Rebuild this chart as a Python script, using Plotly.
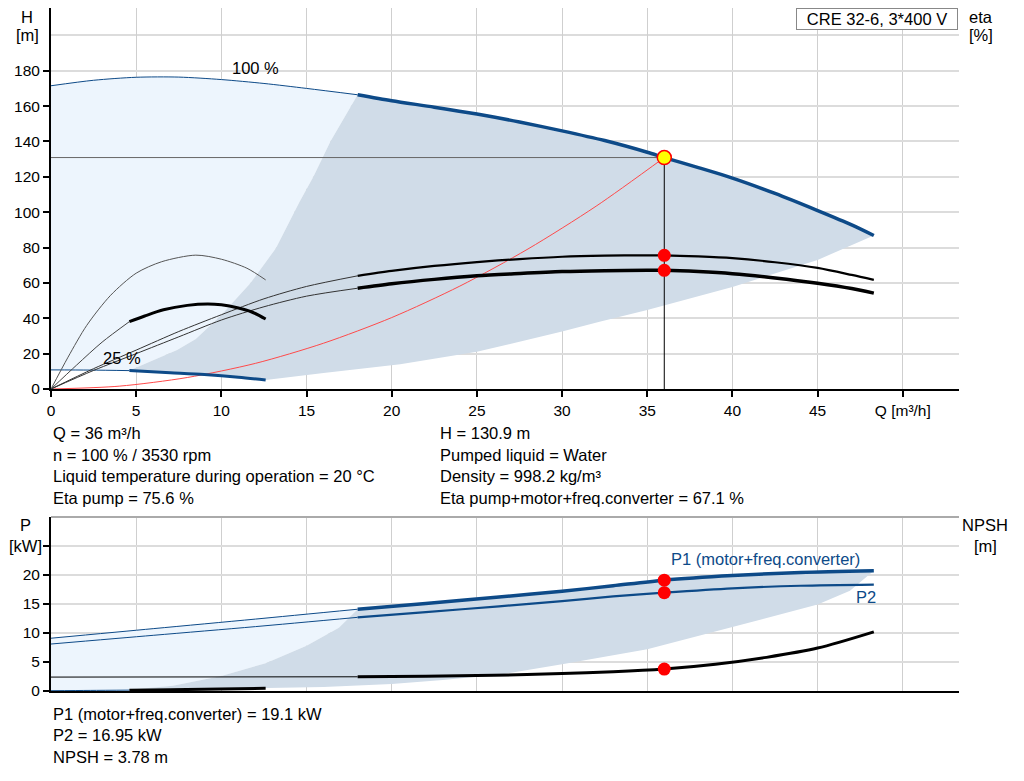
import plotly.graph_objects as go

W, H = 1024, 781
OFF = 8  # the page body margin moves the figure 8 px right and down

# ---- upper chart: head / efficiency -------------------------------------------------
q_100_thin = [0, 2.5, 5, 7.5, 10, 12.5, 15, 18]
h_100_thin = [171.5, 174.6, 176.3, 176.4, 175.0, 172.8, 170.0, 166.4]
q_100 = [18, 20, 22.5, 25, 27.5, 30, 32.5, 35, 36, 38, 40, 42.5, 45, 47, 48.3]
h_100 = [166.4, 163.0, 159.4, 155.5, 151.0, 146.0, 140.5, 133.9, 130.9, 125.2, 119.3, 110.6, 100.9, 92.8, 86.8]

q_25_thin = [0, 2.3, 4.6]
h_25_thin = [10.8, 10.7, 10.4]
q_25 = [4.6, 7, 9, 11, 12.6]
h_25 = [10.4, 9.2, 8.2, 6.7, 5.1]

eta_pump_thin = [0, 11.5, 22, 32.5, 42, 51, 58, 64]
eta_pump = [64, 66.8, 69.6, 71.8, 73.5, 74.8, 75.4, 75.6, 75.6, 75.0, 74.0, 71.7, 68.5, 64.5, 61.7]
eta_total_thin = [0, 10.5, 20, 29.5, 39, 46.5, 52.5, 57]
eta_total = [57, 59.5, 62, 64, 65.3, 66.4, 66.9, 67.1, 67.1, 66.4, 65.2, 62.8, 59.8, 56.8, 54.2]

q_eta25_pump = [0, 1, 2.1, 3.5, 5, 6.5, 8.5, 10, 11.5, 12.6]
eta25_pump = [0, 18, 36, 53, 65.5, 72, 75.7, 73.4, 68.3, 61.7]
q_eta25_total_thin = [0, 1.5, 3, 4.6]
eta25_total_thin = [0, 13.5, 26.5, 38.1]
q_eta25_total = [4.6, 5.5, 6.6, 8, 9.2, 10, 11, 11.75, 12.6]
eta25_total = [38.1, 41.3, 44.8, 47.3, 48.1, 47.6, 45.8, 43.7, 39.6]

q_system = [0, 4, 8, 12, 16, 20, 24, 28, 32, 36]
h_system = [0, 1.6, 6.5, 14.5, 25.9, 40.4, 58.2, 79.2, 103.4, 130.9]

q_edge_left = [4.6, 7.4, 8.5, 10, 11.7, 13.2, 14.6, 15.4, 16.4, 18]
h_edge_left = [10.4, 22, 28.3, 41.9, 59.8, 79.6, 106, 120, 140, 166.4]
q_edge_low = [12.6, 16, 20.5, 25, 30, 32.2, 35, 40, 45, 48.3]
h_edge_low = [5.1, 9.0, 14.0, 21.0, 32.5, 38.0, 44.7, 57.7, 73.0, 86.8]

Q_DUTY, H_DUTY, ETA_PUMP_DUTY, ETA_TOTAL_DUTY = 36, 130.9, 75.6, 67.1

# ---- lower chart: power / NPSH --------------------------------------------------
q_p_thin = [0, 6, 12, 18]
p1_thin = [9.1, 10.75, 12.4, 14.1]
p2_thin = [8.1, 9.6, 11.1, 12.7]
q_p = [18, 22, 26.3, 30, 33, 36, 40, 44, 48.3]
p1 = [14.1, 15.1, 16.2, 17.2, 18.15, 19.1, 19.9, 20.45, 20.75]
p2 = [12.7, 13.6, 14.6, 15.5, 16.3, 16.95, 17.7, 18.15, 18.35]

q_p25_thin = [0, 2.3, 4.6]
p25_thin = [0.05, 0.1, 0.15]
q_p25 = [4.6, 7, 9, 11, 12.6]
p25 = [0.15, 0.22, 0.3, 0.38, 0.47]

q_npsh_thin = [0, 18]
npsh_thin = [2.4, 2.45]
q_npsh = [18, 22, 26, 30, 33, 36, 39, 42, 45, 48.3]
npsh = [2.45, 2.55, 2.7, 3.0, 3.3, 3.78, 4.6, 5.8, 7.4, 10.2]

q_pedge_left = [4.6, 7.15, 10, 12.6, 15, 16.9, 18]
p_edge_left = [0.2, 0.9, 2.6, 4.8, 7.8, 10.9, 14.1]
q_pedge_low = [12.6, 16, 20, 23, 26.5, 30, 35, 40, 45, 46.9, 48.3]
p_edge_low = [0.45, 0.7, 1.2, 1.9, 2.9, 4.6, 7.2, 11.0, 14.9, 17.3, 20.75]

P1_DUTY, P2_DUTY, NPSH_DUTY = 19.1, 16.95, 3.78

x_ticks = [0, 5, 10, 15, 20, 25, 30, 35, 40, 45, 50]
x_ticktext = ["0", "5", "10", "15", "20", "25", "30", "35", "40", "45", "Q [m³/h]"]
h_ticks = [0, 20, 40, 60, 80, 100, 120, 140, 160, 180]
eta_ticks = [0, 20, 40, 60, 80, 100]
p_ticks = [0, 5, 10, 15, 20, 25]
p_ticktext = ["0", "5", "10", "15", "20", ""]

BLUE = "#0d4a88"
DARK_FILL = "#d0dce8"
LIGHT_FILL = "#edf5fd"
FONT = "Liberation Sans, Arial, sans-serif"
TXT = 16.5


def px(x, y):
    # screen pixel of the reference -> paper coordinates
    return (x - OFF) / W, 1 - (y - OFF) / H


fig = go.Figure()


def line(x, y, color, width, axes=("x", "y")):
    fig.add_trace(go.Scatter(x=x, y=y, mode="lines", xaxis=axes[0], yaxis=axes[1],
                             line=dict(color=color, width=width, shape="spline", smoothing=0.8),
                             hoverinfo="skip", showlegend=False))


def area(x, y, color, axes=("x", "y")):
    fig.add_trace(go.Scatter(x=x, y=y, mode="lines", fill="toself", fillcolor=color,
                             xaxis=axes[0], yaxis=axes[1], line=dict(width=0),
                             hoverinfo="skip", showlegend=False))


# upper areas
area(q_100_thin + q_edge_left[::-1] + q_25_thin[::-1],
     h_100_thin + h_edge_left[::-1] + h_25_thin[::-1], LIGHT_FILL)
area(q_edge_left + q_100 + q_edge_low[::-1] + q_25[::-1],
     h_edge_left + h_100 + h_edge_low[::-1] + h_25[::-1], DARK_FILL)

# upper lines
line(q_system, h_system, "#ff4a4a", 1)
line([0, Q_DUTY], [H_DUTY, H_DUTY], "#666666", 1)
line([Q_DUTY, Q_DUTY], [0, H_DUTY], "#000000", 1)
line(q_100_thin, h_100_thin, BLUE, 1)
line(q_100, h_100, BLUE, 3.5)
line(q_25_thin, h_25_thin, BLUE, 1)
line(q_25, h_25, BLUE, 3)
line(q_100_thin, eta_pump_thin, "#333333", 1)
line(q_100, eta_pump, "#000000", 2.2)
line(q_100_thin, eta_total_thin, "#333333", 1)
line(q_100, eta_total, "#000000", 3.5)
line(q_eta25_pump, eta25_pump, "#555555", 1)
line(q_eta25_total_thin, eta25_total_thin, "#444444", 1)
line(q_eta25_total, eta25_total, "#000000", 3)

fig.add_trace(go.Scatter(x=[Q_DUTY, Q_DUTY], y=[ETA_PUMP_DUTY, ETA_TOTAL_DUTY], mode="markers",
                         marker=dict(color="#ff0000", size=13), hoverinfo="skip", showlegend=False))
fig.add_trace(go.Scatter(x=[Q_DUTY], y=[H_DUTY], mode="markers",
                         marker=dict(color="#ffff00", size=14, line=dict(color="#ff0000", width=1.5)),
                         hoverinfo="skip", showlegend=False))

# lower areas
low = ("x2", "y3")
area(q_p_thin + q_pedge_left[::-1] + q_p25_thin[::-1],
     p1_thin + p_edge_left[::-1] + p25_thin[::-1], LIGHT_FILL, low)
area(q_pedge_left + q_p + q_pedge_low[::-1] + q_p25[::-1],
     p_edge_left + p1 + p_edge_low[::-1] + p25[::-1], DARK_FILL, low)

# lower lines
line(q_npsh_thin, npsh_thin, "#000000", 1, low)
line(q_npsh, npsh, "#000000", 3, low)
line(q_p_thin, p1_thin, BLUE, 1, low)
line(q_p, p1, BLUE, 3.5, low)
line(q_p_thin, p2_thin, BLUE, 1, low)
line(q_p, p2, BLUE, 2.2, low)
line(q_p25_thin, p25_thin, BLUE, 1, low)
line(q_p25, p25, "#000000", 3, low)

fig.add_trace(go.Scatter(x=[Q_DUTY, Q_DUTY, Q_DUTY], y=[P1_DUTY, P2_DUTY, NPSH_DUTY], mode="markers",
                         xaxis="x2", yaxis="y3", marker=dict(color="#ff0000", size=13),
                         hoverinfo="skip", showlegend=False))

xd = [px(51, 0)[0], px(959, 0)[0]]
top_dom = [px(0, 389)[1], 1]
h_top = (389 - OFF) / (389 / 220)  # value seen at the top edge of the figure
low_dom = [px(0, 691)[1], px(0, 517)[1]]
axis_common = dict(showline=True, linecolor="#000000", linewidth=2, zeroline=False, automargin=False,
                   tickcolor="#000000", ticklen=6, tickwidth=1.5, ticks="outside",
                   tickfont=dict(size=15.5))

fig.update_layout(
    width=W, height=H, autosize=False,
    margin=dict(l=0, r=0, t=0, b=0, pad=0),
    paper_bgcolor="#ffffff", plot_bgcolor="#ffffff",
    font=dict(family=FONT, size=15, color="#000000"),
    xaxis=dict(domain=xd, range=[0, 53.3], anchor="y", tickvals=x_ticks, ticktext=x_ticktext,
               showgrid=True, gridcolor="#cfcfcf", gridwidth=1, **axis_common),
    yaxis=dict(domain=top_dom, range=[0, h_top], anchor="x", tickvals=h_ticks,
               showgrid=True, gridcolor="#dcdcdc", gridwidth=2,
               minor=dict(tickvals=[200], showgrid=True, gridcolor="#dcdcdc", gridwidth=2, ticks=""),
               **axis_common),
    yaxis2=dict(overlaying="y", side="right", anchor="x", range=[0, h_top], tickvals=eta_ticks,
                showgrid=False, **axis_common),
    xaxis2=dict(domain=xd, range=[0, 53.3], anchor="y3", tickvals=x_ticks, showticklabels=False,
                showgrid=True, gridcolor="#cfcfcf", gridwidth=1, showline=True, linecolor="#000000",
                linewidth=2, zeroline=False, ticks="", automargin=False),
    yaxis3=dict(domain=low_dom, range=[0, 30], anchor="x2", tickvals=p_ticks, ticktext=p_ticktext,
                showgrid=True, gridcolor="#dcdcdc", gridwidth=2, **axis_common),
    yaxis4=dict(overlaying="y3", side="right", anchor="x2", range=[0, 30], tickvals=p_ticks,
                ticktext=p_ticktext, showgrid=False, **axis_common),
)

fig.add_shape(type="line", xref="x2 domain", yref="y3 domain", x0=0, x1=1, y0=1, y1=1,
              line=dict(color="#aaaaaa", width=2))

labels = [
    ("H", 27, 17, "#000000", "center"), ("[m]", 27, 35, "#000000", "center"),
    ("eta", 981, 17, "#000000", "center"), ("[%]", 981, 35, "#000000", "center"),
    ("100 %", 255, 68, "#000000", "center"), ("25 %", 122, 358, "#000000", "center"),
    ("P", 25, 525, "#000000", "center"), ("[kW]", 25, 546, "#000000", "center"),
    ("NPSH", 985, 525, "#000000", "center"), ("[m]", 985, 546, "#000000", "center"),
    ("P1 (motor+freq.converter)", 765, 559, BLUE, "center"), ("P2", 866, 597, BLUE, "center"),
    ("Q = 36 m³/h", 51, 433, "#000000", "left"),
    ("n = 100 % / 3530 rpm", 51, 455, "#000000", "left"),
    ("Liquid temperature during operation = 20 °C", 51, 476, "#000000", "left"),
    ("Eta pump = 75.6 %", 51, 498, "#000000", "left"),
    ("H = 130.9 m", 438, 433, "#000000", "left"),
    ("Pumped liquid = Water", 438, 455, "#000000", "left"),
    ("Density = 998.2 kg/m³", 438, 476, "#000000", "left"),
    ("Eta pump+motor+freq.converter = 67.1 %", 438, 498, "#000000", "left"),
    ("P1 (motor+freq.converter) = 19.1 kW", 51, 714, "#000000", "left"),
    ("P2 = 16.95 kW", 51, 735, "#000000", "left"),
    ("NPSH = 3.78 m", 51, 757, "#000000", "left"),
]
for text, x, y, color, anchor in labels:
    ax, ay = px(x, y)
    fig.add_annotation(x=ax, y=ay, xref="paper", yref="paper", text=text, showarrow=False,
                       xanchor=anchor, yanchor="middle", font=dict(color=color, size=TXT))

bx, _ = px(958, 0)
fig.add_annotation(x=bx, y=1, xref="paper", yref="paper", text="CRE 32-6, 3*400 V",
                   showarrow=False, xanchor="right", yanchor="top", bgcolor="#ffffff",
                   bordercolor="#888888", borderwidth=1, borderpad=2, width=156, height=16,
                   font=dict(size=TXT))

fig.write_html("out.html")
